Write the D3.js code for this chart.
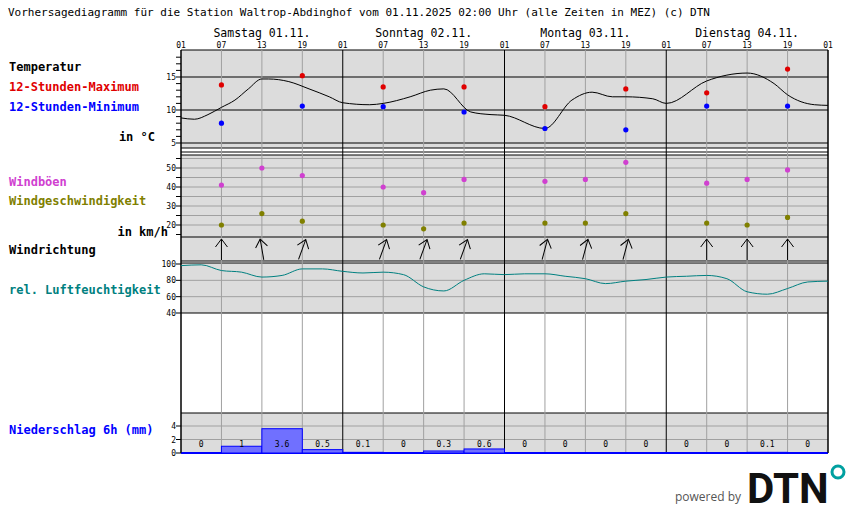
<!DOCTYPE html><html><head><meta charset="utf-8"><script src="https://cdn.jsdelivr.net/npm/d3@7"></script>
<style>body{margin:0;background:#fff}</style></head><body><svg id="c" width="850" height="524"></svg><script>
const hourTicks=["01","07","13","19","01","07","13","19","01","07","13","19","01","07","13","19","01"];
const days=["Samstag 01.11.","Sonntag 02.11.","Montag 03.11.","Dienstag 04.11."];
const tempH=[0,2,4,6,8,10,12,13,16,19,22,24,28,30,34,37,39,43,46,48,54,58,61,64,66,70,72,78,84,88,90,94,96];
const tempV=[8.8,8.6,9.3,10.4,11.5,13.2,14.7,14.7,14.3,13.2,12,11.1,10.8,11,12,13,13.2,9.7,9.3,9.2,7.2,11.5,12.7,12,12,11.7,11,14.4,15.6,14,12.3,10.8,10.7];
const minMaxH=[6,18,30,42,54,66,78,90];
const tMax=[13.8,15.2,13.5,13.5,10.5,13.2,12.6,16.2];
const tMin=[8,10.6,10.5,9.7,7.2,7,10.6,10.6];
const windH=[6,12,18,30,36,42,54,60,66,78,84,90];
const gust=[41,50,46,40,37,44,43,44,53,42,44,49];
const speed=[20,26,22,20,18,21,21,21,26,21,20,24];
const dirDeg=[0,-10,20,20,20,20,15,15,15,0,0,0];
const humH=[0,3,6,9,12,15,18,21,24,27,30,33,36,39,42,45,48,51,54,57,60,63,66,69,72,75,78,81,84,87,90,93,96];
const humV=[98,99,92,90,84,86,94,94,91,89,90,87,72,67,80,88,87,88,88,85,82,76,79,81,84,85,86,82,66,63,70,78,79];
const precip=[0,1,3.6,0.5,0.1,0,0.3,0.6,0,0,0,0,0,0,0.1,0];

const svg=d3.select("#c");const F="DejaVu Sans Mono, monospace";
const x=d3.scaleLinear().domain([0,96]).range([181,828]);
const yT=d3.scaleLinear().domain([5,15]).range([143,77]);
const yW=d3.scaleLinear().domain([20,50]).range([225,168]);
const yH=d3.scaleLinear().domain([40,100]).range([313,264]);
const yP=d3.scaleLinear().domain([0,4]).range([453,426]);
[[50,148],[155,237],[237,261],[263,313],[413,453]].forEach(p=>svg.append("rect").attr("x",181).attr("y",p[0]).attr("width",647).attr("height",p[1]-p[0]).attr("fill","#dcdcdc"));
const hl=(y,c,w)=>svg.append("line").attr("x1",181).attr("x2",828).attr("y1",y).attr("y2",y).attr("stroke",c).attr("stroke-width",w||1);
[20,25,30,35,40,45,50,55].forEach(v=>hl(yW(v),"#a0a0a0"));
[60,80].forEach(v=>hl(yH(v),"#a0a0a0"));
[2,4].forEach(v=>hl(yP(v),"#a0a0a0"));
[5,10,15].forEach(v=>hl(yT(v),"#000"));
[50,148,152,155,237,261,263,313,413].forEach(y=>hl(y,"#000"));
d3.range(0,97,6).forEach((h,i)=>{const isDay=(h%24===0);svg.append("line").attr("x1",x(h)).attr("x2",x(h)).attr("y1",50).attr("y2",453).attr("stroke",isDay?"#000":"#a0a0a0").attr("stroke-width",1);
 svg.append("text").attr("x",x(h)).attr("y",48).attr("text-anchor","middle").attr("font-family",F).attr("font-size",8).text(hourTicks[i]);});
days.forEach((d,i)=>svg.append("text").attr("x",x(i*24+12)).attr("y",37).attr("text-anchor","middle").attr("font-family",F).attr("font-size",11.5).text(d));
hl(453,"#00f",2);
const yax=(sc,vals,minor)=>{vals.forEach(v=>{svg.append("text").attr("x",176).attr("y",sc(v)+3).attr("text-anchor","end").attr("font-family",F).attr("font-size",8).text(v);});
 minor.forEach(v=>svg.append("line").attr("x1",176).attr("x2",181).attr("y1",sc(v)).attr("y2",sc(v)).attr("stroke","#000"));};
yax(yT,[5,10,15],d3.range(5,19,1));
yax(yW,[20,30,40,50],d3.range(15,56,5));
yax(yH,[40,60,80,100],[40,60,80,100]);
yax(yP,[0,2,4],[0,2,4]);
svg.append("line").attr("x1",181).attr("x2",181).attr("y1",50).attr("y2",453).attr("stroke","#000");
svg.append("line").attr("x1",828).attr("x2",828).attr("y1",50).attr("y2",453).attr("stroke","#000");
svg.append("path").datum(tempH.map((h,i)=>[h,tempV[i]])).attr("d",d3.line().x(d=>x(d[0])).y(d=>yT(d[1])).curve(d3.curveMonotoneX)).attr("fill","none").attr("stroke","#000");
const dot=(cx,cy,c)=>svg.append("circle").attr("cx",cx).attr("cy",cy).attr("r",2.6).attr("fill",c);
minMaxH.forEach((h,i)=>{dot(x(h),yT(tMax[i]),"#e00000");dot(x(h),yT(tMin[i]),"#0000ff");});
windH.forEach((h,i)=>{dot(x(h),yW(gust[i]),"#d040d0");dot(x(h),yW(speed[i]),"#808000");
 const g=svg.append("g").attr("transform",`translate(${x(h)},249) rotate(${dirDeg[i]})`);
 g.append("line").attr("x1",0).attr("x2",0).attr("y1",11).attr("y2",-10).attr("stroke","#000");
 g.append("path").attr("d","M-6,-2 L0,-10 L6,-2").attr("fill","none").attr("stroke","#000");});
svg.append("path").datum(humH.map((h,i)=>[h,humV[i]])).attr("d",d3.line().x(d=>x(d[0])).y(d=>yH(d[1])).curve(d3.curveMonotoneX)).attr("fill","none").attr("stroke","#008080");
precip.forEach((v,i)=>{const x0=x(i*6),x1=x(i*6+6);
 if(v>0)svg.append("rect").attr("x",x0).attr("y",yP(v)).attr("width",x1-x0).attr("height",yP(0)-yP(v)).attr("fill","#7070ff").attr("stroke","#0000ff");
 svg.append("text").attr("x",(x0+x1)/2).attr("y",447).attr("text-anchor","middle").attr("font-family",F).attr("font-size",8).text(v);});
const lab=(t,xx,y,c,anchor)=>svg.append("text").attr("x",xx).attr("y",y).attr("fill",c).attr("font-family",F).attr("font-size",12).attr("font-weight","bold").attr("text-anchor",anchor||"start").text(t);
svg.append("text").attr("x",8).attr("y",16).attr("font-family",F).attr("font-size",11).text("Vorhersagediagramm für die Station Waltrop-Abdinghof vom 01.11.2025 02:00 Uhr (alle Zeiten in MEZ)   (c) DTN");
lab("Temperatur",9,71,"#000");lab("12-Stunden-Maximum",9,91,"#e00000");lab("12-Stunden-Minimum",9,111,"#0000ff");lab("in °C",155,141,"#000","end");
lab("Windböen",9,186,"#d040d0");lab("Windgeschwindigkeit",9,205,"#808000");lab("in km/h",168,236,"#000","end");
lab("Windrichtung",9,254,"#000");lab("rel. Luftfeuchtigkeit",9,294,"#008080");lab("Niederschlag 6h (mm)",9,434,"#0000ff");
svg.append("text").attr("x",741).attr("y",501).attr("text-anchor","end").attr("font-family","Open Sans, sans-serif").attr("font-size",12).attr("fill","#555").text("powered by");
svg.append("text").attr("x",747).attr("y",503).attr("font-family","Roboto, sans-serif").attr("font-weight","bold").attr("font-size",42).attr("fill","#111").text("DTN");
svg.append("circle").attr("cx",838).attr("cy",472).attr("r",6).attr("fill","none").attr("stroke","#00a0a0").attr("stroke-width",3);
</script></body></html>
